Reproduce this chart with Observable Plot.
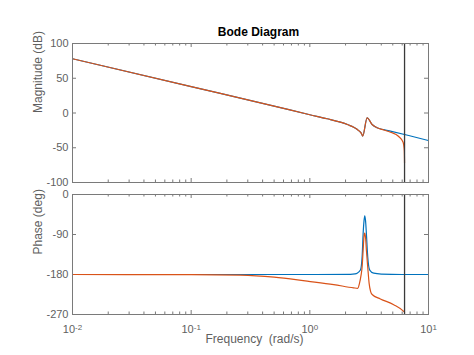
<!DOCTYPE html>
<html><head><meta charset="utf-8">
<script src="https://cdn.jsdelivr.net/npm/d3@7"></script>
<script src="https://cdn.jsdelivr.net/npm/@observablehq/plot@0.6"></script>
<style>
body{margin:0;background:#fff}
#chart svg{display:block}
#chart svg + svg{margin-top:-8px}
</style>
</head><body><div id="chart"></div>
<script>
// ---- Data ----
const titleText = "Bode Diagram";
const magLabel = "Magnitude (dB)";
const phaseLabel = "Phase (deg)";
const freqLabel = "Frequency\u00a0 (rad/s)";

const magTicks = [100, 50, 0, -50, -100];
const phaseTicks = [0, -90, -180, -270];
const decadeTicks = [0.01, 0.1, 1, 10];
const minorTicks = [0.02,0.03,0.04,0.05,0.06,0.07,0.08,0.09,0.2,0.3,0.4,0.5,0.6,0.7,0.8,0.9,2,3,4,5,6,7,8,9];
const nyquistFreq = [6.283];

// continuous system (blue)
const blueMagF  = [0.01, 0.1, 0.5, 1.0, 1.4, 1.81, 2.1, 2.343, 2.5, 2.669, 2.74, 2.79, 3.039, 3.348, 3.69, 4.2, 4.78, 6.81, 10];
const blueMagDb = [78, 38, 10, -2.5, -8.3, -13.2, -17, -20.4, -23.5, -27.6, -30.5, -33.3, -6.9, -16.5, -21.3, -24, -26.2, -32.4, -39.6];

const bluePhF   = [0.01, 0.1, 1, 2.2, 2.4, 2.503, 2.669, 2.758, 2.812, 2.86, 2.901, 2.95, 2.998, 3.075, 3.197, 3.454, 4, 6, 10];
const bluePhDeg = [-180, -180, -180, -179.5, -178.5, -177, -170, -140, -89, -60, -48, -60, -89, -140, -170, -177, -179, -180, -180];

// discrete system (orange), drawn up to the Nyquist frequency
const orangeMagF  = [0.01, 0.1, 0.5, 1.0, 1.4, 1.81, 2.1, 2.343, 2.5, 2.669, 2.74, 2.79, 3.039, 3.348, 3.69, 4.2, 4.78, 5.61, 6.11, 6.25, 6.283];
const orangeMagDb = [78, 38, 10, -2.5, -8.3, -13.2, -17, -20.4, -23.5, -27.6, -30.5, -33.3, -6.9, -16.5, -21.3, -24.5, -27.6, -33.8, -42, -54, -72];

const orangePhF   = [0.01, 0.1, 0.26, 0.5, 0.95, 1.59, 2.34, 2.53, 2.62, 2.7, 2.758, 2.812, 2.86, 2.901, 2.95, 2.998, 3.075, 3.16, 3.25, 3.35, 3.93, 5.09, 6.18, 6.283];
const orangePhDeg = [-180, -180.5, -181.5, -186, -195, -202.6, -210, -211, -200, -182, -163, -126, -95, -87, -98, -126, -163, -200, -218, -225, -235, -248, -263, -265];

// ---- Build tables ----
const toRows = (fs, vs) => fs.map((f, i) => ({f, v: vs[i]}));
const blueMag = toRows(blueMagF, blueMagDb);
const orangeMag = toRows(orangeMagF, orangeMagDb);
const bluePh = toRows(bluePhF, bluePhDeg);
const orangePh = toRows(orangePhF, orangePhDeg);

const W = 474, ML = 72, MR = 46;
const PW = W - ML - MR;
const BLUE = "#0072BD", ORANGE = "#D95319", AX = "#7a7a7a", TXT = "#5f5f5f";
const font = "'Liberation Sans', Arial, Helvetica, sans-serif";

function panelMarks({height, marginTop, marginBottom, yTicks, series, xLabels}) {
  const PH = height - marginTop - marginBottom;
  const marks = [
    Plot.tickX(decadeTicks, {x: d => d, stroke: AX, insetTop: PH - 4}),
    Plot.tickX(decadeTicks, {x: d => d, stroke: AX, insetBottom: PH - 4}),
    Plot.tickX(minorTicks, {x: d => d, stroke: AX, insetTop: PH - 2.5}),
    Plot.tickX(minorTicks, {x: d => d, stroke: AX, insetBottom: PH - 2.5}),
    Plot.tickY(yTicks, {y: d => d, stroke: AX, insetRight: PW - 4}),
    Plot.tickY(yTicks, {y: d => d, stroke: AX, insetLeft: PW - 4}),
    Plot.axisY({ticks: yTicks, tickSize: 0, tickPadding: 4, tickFormat: d => String(d), label: null, fill: TXT}),
    ...series.map(s => Plot.line(s.data, {x: "f", y: "v", stroke: s.color, strokeWidth: 1.2, curve: "monotone-x"})),
    Plot.ruleX(nyquistFreq, {x: d => d, stroke: "#3a3a3a", strokeWidth: 1.3}),
    Plot.frame({stroke: AX})
  ];
  if (xLabels) {
    marks.push(Plot.axisX({ticks: decadeTicks, tickSize: 0, tickPadding: 11, label: null, fill: TXT,
      tickFormat: d => String(Math.round(Math.log10(d)))}));
  }
  return marks;
}

// ---- Magnitude panel ----
const magMarks = panelMarks({height: 194, marginTop: 43, marginBottom: 12, yTicks: magTicks,
  series: [{data: blueMag, color: BLUE}, {data: orangeMag, color: ORANGE}], xLabels: false});
const magChart = Plot.plot({
  width: W, height: 194, marginTop: 43, marginBottom: 12, marginLeft: ML, marginRight: MR,
  style: {fontFamily: font, fontSize: "11px", color: TXT, background: "transparent"},
  x: {type: "log", domain: [0.01, 10], axis: null},
  y: {domain: [-100, 100]},
  marks: [
    ...magMarks,
    Plot.text([titleText], {frameAnchor: "top", dy: -16, dx: 8, fontWeight: "bold", fontSize: 12, fill: "#000"}),
    Plot.text([magLabel], {frameAnchor: "left", rotate: -90, dx: -34, fontSize: 12, fill: TXT})
  ]
});

// ---- Phase panel ----
const phMarks = panelMarks({height: 169, marginTop: 8, marginBottom: 41, yTicks: phaseTicks,
  series: [{data: bluePh, color: BLUE}, {data: orangePh, color: ORANGE}], xLabels: true});
const phChart = Plot.plot({
  width: W, height: 169, marginTop: 8, marginBottom: 41, marginLeft: ML, marginRight: MR,
  style: {fontFamily: font, fontSize: "11px", color: TXT, background: "transparent"},
  x: {type: "log", domain: [0.01, 10]},
  y: {domain: [-270, 0]},
  marks: [
    ...phMarks,
    Plot.text([phaseLabel], {frameAnchor: "left", rotate: -90, dx: -34, fontSize: 12, fill: TXT}),
    Plot.text([freqLabel], {frameAnchor: "bottom", dy: 28, dx: 4, fontSize: 12, fill: TXT})
  ]
});

// superscript exponents on the frequency tick labels
d3.select(phChart).selectAll('g[aria-label="x-axis tick label"] text').each(function () {
  const t = d3.select(this);
  const e = t.text();
  t.text("10");
  t.append("tspan").attr("dy", "-0.45em").attr("font-size", "8px").text(e);
});

document.getElementById("chart").append(magChart, phChart);
</script></body></html>
